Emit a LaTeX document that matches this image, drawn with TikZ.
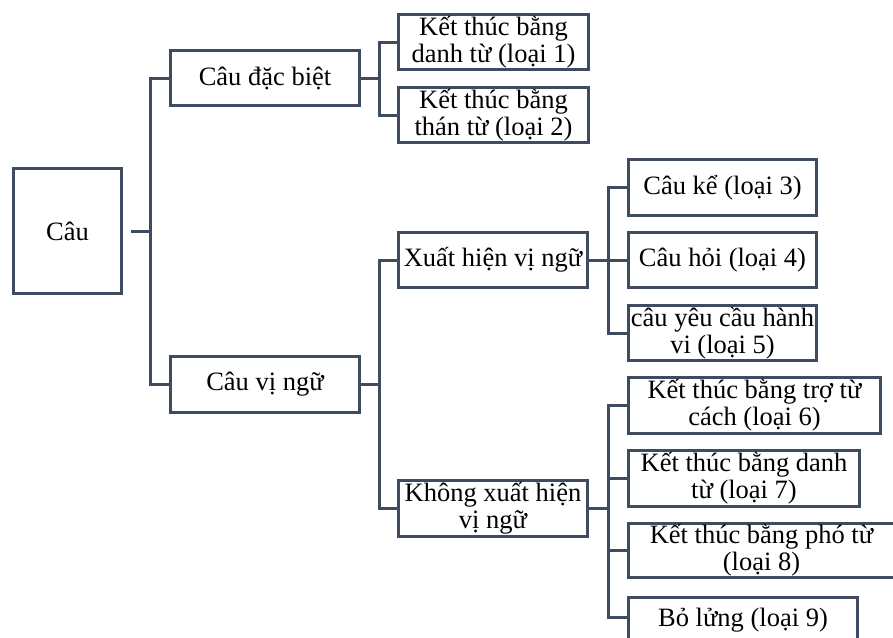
\documentclass[tikz,border=0pt]{standalone}
\usepackage{fontspec}
\setmainfont{Liberation Serif}
\usetikzlibrary{calc}
\definecolor{lc}{RGB}{63,75,94}
\begin{document}
\begin{tikzpicture}[x=1pt,y=-1pt,
  box/.style={draw=lc, line width=3pt, align=center, inner sep=0pt, text=black,
    font=\fontsize{26.5}{27}\selectfont},
  conn/.style={draw=lc, line width=3pt, line join=miter}]
\useasboundingbox (0,0) rectangle (893,637);
\fill[white] (0,0) rectangle (893,637);
% nodes
\node[box, minimum width=108, minimum height=125] (cau) at (67.5,231) {Câu};
\node[box, minimum width=189, minimum height=55] (dacbiet) at (265,78) {Câu đặc biệt};
\node[box, minimum width=189, minimum height=56] (vingu) at (265,384.5) {Câu vị ngữ};
\node[box, minimum width=190, minimum height=55] (l1) at (493.5,42) {Kết thúc bằng\\danh từ (loại 1)};
\node[box, minimum width=190, minimum height=55] (l2) at (493.5,115) {Kết thúc bằng\\thán từ (loại 2)};
\node[box, minimum width=189, minimum height=55] (xh) at (493,260) {Xuất hiện vị ngữ};
\node[box, minimum width=189, minimum height=56] (kxh) at (493,508.5) {Không xuất hiện\\vị ngữ};
\node[box, minimum width=188, minimum height=56] (l3) at (722.5,187.5) {Câu kể (loại 3)};
\node[box, minimum width=188, minimum height=55] (l4) at (722.5,260) {Câu hỏi (loại 4)};
\node[box, minimum width=188, minimum height=55] (l5) at (722.5,333) {câu yêu cầu hành\\vi (loại 5)};
\node[box, minimum width=252, minimum height=56] (l6) at (754.5,405.5) {Kết thúc bằng trợ từ\\cách (loại 6)};
\node[box, minimum width=231, minimum height=56] (l7) at (744,478.5) {Kết thúc bằng danh\\từ (loại 7)};
\node[box, minimum width=266, minimum height=54] (l8) at (761.5,550.5) {Kết thúc bằng phó từ\\(loại 8)};
\node[box, minimum width=229, minimum height=45] (l9) at (743,620) {Bỏ lửng (loại 9)};
% buses
\coordinate (b0) at (150,231);
\coordinate (b1) at (379,78);
\coordinate (b2) at (379,384.5);
\coordinate (b3) at (608,260);
\coordinate (b4) at (608,508.5);
\coordinate (l9in) at ([yshift=3pt]l9.west);
% connectors
\draw[conn, shorten <=8pt] (cau.east) -- (b0);
\draw[conn] (dacbiet.west) -| (b0) |- (vingu.west);
\draw[conn] (dacbiet.east) -- (b1);
\draw[conn] (l1.west) -| (b1) |- (l2.west);
\draw[conn] (vingu.east) -- (b2);
\draw[conn] (xh.west) -| (b2) |- (kxh.west);
\draw[conn] (xh.east) -- (l4.west);
\draw[conn] (l3.west) -| (b3) |- (l5.west);
\draw[conn] (kxh.east) -- (b4);
\draw[conn] (l6.west) -| (b4) |- (l9in);
\draw[conn] (l7.west) -| (b4);
\draw[conn] (l8.west) -| (b4);
\end{tikzpicture}
\end{document}
